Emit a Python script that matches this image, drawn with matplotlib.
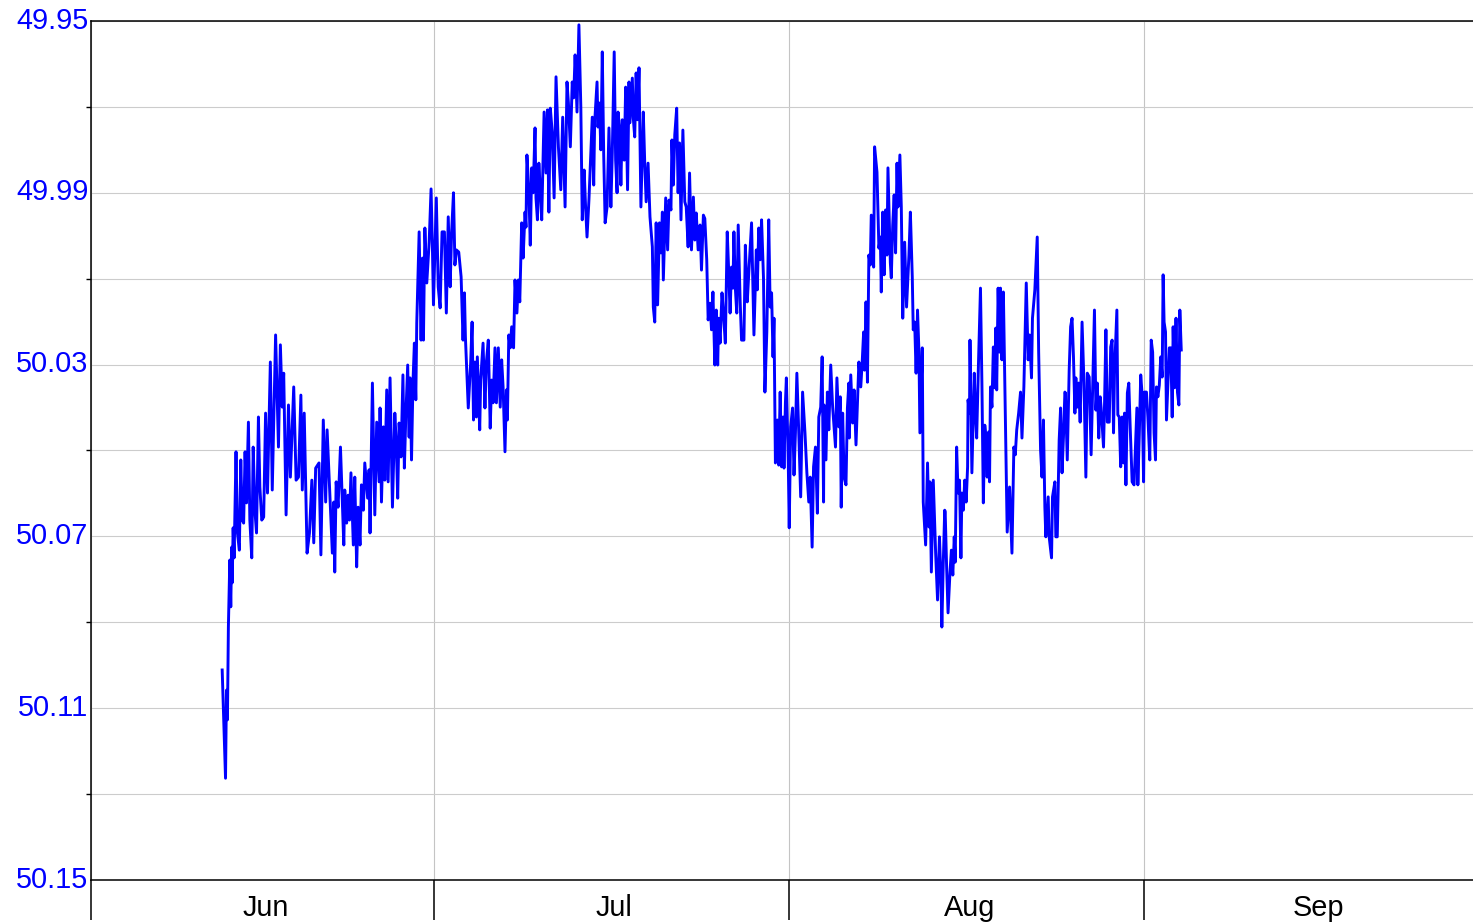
import matplotlib
matplotlib.use('Agg')
import matplotlib.pyplot as plt
import matplotlib.dates as mdates
import matplotlib.ticker as ticker
from matplotlib.transforms import ScaledTranslation
import pandas as pd

plt.rcParams['font.family'] = ['Liberation Sans', 'DejaVu Sans']

# readings: hours since 12 Jun 00:00, grid frequency in Hz
start = pd.Timestamp('2023-06-12 00:00')
hours = [
    11, 18, 20, 22, 24, 27, 29, 31, 32, 34, 36, 40, 43, 47, 50, 53, 56, 59, 62, 66,
    69, 73, 76, 80, 83, 87, 90, 94, 98, 102, 106, 112, 116, 123, 129, 133, 137, 140, 145, 150,
    154, 161, 166, 171, 176, 179, 183, 189, 194, 199, 203, 207, 214, 218, 223, 228, 231, 236, 239, 242,
    245, 247, 250, 254, 259, 266, 268,
    272, 275, 278, 281, 286, 289, 293, 296, 300, 303, 307, 310, 316, 319, 321, 326, 331, 335, 340, 342,
    345, 349, 352, 356, 359, 363, 368, 373, 376, 379, 382, 386, 390, 393, 396, 400, 403, 405, 408, 411,
    414, 417, 419, 424, 428, 431, 433, 436, 440, 445, 449, 452, 454, 460, 464, 468, 472, 477, 481, 485,
    489, 492, 496, 499, 502, 507, 512, 516, 519,
    521, 527, 532, 535, 538, 541, 544, 546, 551, 553, 558, 562, 565, 569, 573, 576, 579, 583, 586, 590,
    594, 597, 600, 604, 607, 609, 612, 615, 618, 622, 625, 629, 632, 635, 639, 642, 646, 648, 650, 654,
    657, 660, 663, 667, 669, 672, 675, 678, 681, 686, 690, 693, 696, 699, 703, 707, 711, 716, 721, 725,
    730, 734, 737, 741, 745, 748, 751, 755, 759, 763, 766, 770,
    773, 776, 780, 784, 787, 790, 792, 797, 799, 802, 805, 808, 811, 814, 818, 822, 826, 829, 833, 836,
    839, 841, 844, 847, 850, 854, 857, 861, 864, 866, 871, 873, 876, 879, 882, 885, 889, 894, 897, 900,
    904, 908, 913, 915, 918, 921, 924, 928, 931, 934, 936, 941, 945, 948, 952, 954, 957, 960, 964, 967,
    970, 973, 977, 981, 984, 988, 991, 995, 999, 1002, 1005, 1009, 1013, 1016, 1020,
    1023, 1027, 1030, 1034, 1037, 1040, 1044, 1047, 1050, 1052, 1055, 1059, 1062, 1066, 1070, 1073, 1076, 1079, 1082, 1084,
    1087, 1090, 1093, 1097, 1100, 1105, 1108, 1112, 1115, 1121, 1126, 1131, 1133, 1136, 1139, 1142, 1146, 1149, 1153, 1157,
    1160, 1163, 1166, 1168, 1171, 1175, 1178, 1181, 1184, 1187, 1189, 1192, 1194, 1198, 1200, 1203, 1207, 1210, 1213, 1216,
    1220, 1224, 1228, 1233, 1237, 1241, 1244, 1248, 1251, 1255, 1259, 1262, 1266, 1269, 1272,
    1273, 1277, 1280, 1283, 1287, 1291, 1297, 1300, 1304, 1307, 1309, 1312, 1315, 1319, 1322, 1325, 1326, 1329, 1333, 1336,
    1340, 1346, 1350, 1353, 1356, 1358, 1361, 1364, 1367, 1370, 1372, 1377, 1379, 1384, 1388, 1391, 1393, 1396, 1399, 1402,
    1405, 1407, 1412, 1414, 1417, 1420, 1423, 1426, 1428, 1432, 1435, 1438, 1442, 1446, 1451, 1454, 1458, 1460, 1463, 1466,
    1469, 1472, 1474, 1479, 1481, 1486, 1490, 1493, 1495, 1498, 1502, 1507, 1511, 1515, 1518, 1520, 1523, 1526,
    1527, 1530, 1533, 1537, 1540, 1543, 1546, 1548, 1551, 1554, 1557, 1560, 1562, 1565, 1568, 1571, 1574, 1575, 1578, 1579,
    1583, 1588, 1590, 1593, 1597, 1601, 1604, 1607, 1610, 1613, 1615, 1618, 1620, 1622, 1625, 1628, 1631, 1633, 1635, 1638,
    1641, 1643, 1646, 1649, 1652, 1657, 1662, 1667, 1671, 1674, 1677, 1681, 1685, 1688, 1692, 1697, 1701, 1704, 1708, 1710,
    1715, 1720, 1723, 1727, 1730, 1733, 1736, 1738, 1743, 1745, 1750, 1752, 1757, 1759, 1762, 1766, 1769, 1772, 1775, 1778,
    1779, 1783, 1787, 1790, 1793, 1796, 1799, 1801, 1804, 1807, 1810, 1814, 1818, 1822, 1825, 1829, 1833, 1836, 1840, 1843,
    1846, 1849, 1852, 1854, 1859, 1861, 1864, 1867, 1871, 1874, 1877, 1880, 1882, 1887, 1889, 1892, 1895, 1898, 1901, 1903,
    1906, 1909, 1912, 1915, 1919, 1923, 1926, 1929, 1931, 1934, 1937, 1940, 1943, 1945, 1949, 1952, 1956, 1959, 1962, 1965,
    1968, 1970, 1973, 1976, 1979, 1982, 1984, 1986, 1989, 1991, 1994, 1997, 2000, 2003, 2005, 2008, 2011, 2014, 2017, 2019,
    2022,
]
freq = [
    50.1011, 50.1263, 50.1058, 50.1127, 50.0911, 50.0755, 50.0864, 50.0725, 50.0808, 50.0680,
    50.0750, 50.0503, 50.0692, 50.0732, 50.0522, 50.0662, 50.0669, 50.0503, 50.0622, 50.0434,
    50.0662, 50.0750, 50.0492, 50.0646, 50.0692, 50.0422, 50.0585, 50.0662, 50.0655, 50.0413,
    50.0599, 50.0294, 50.0592, 50.0231, 50.0492, 50.0254, 50.0399, 50.0320, 50.0650, 50.0394,
    50.0562, 50.0352, 50.0569, 50.0562, 50.0371, 50.0592, 50.0413, 50.0739, 50.0692, 50.0569,
    50.0715, 50.0541, 50.0529, 50.0743, 50.0429, 50.0620, 50.0452, 50.0585, 50.0662, 50.0739,
    50.0620, 50.0783, 50.0573, 50.0632, 50.0492, 50.0720, 50.0592,
    50.0669, 50.0604, 50.0662, 50.0552, 50.0720, 50.0562, 50.0771, 50.0632, 50.0720, 50.0580,
    50.0639, 50.0529, 50.0611, 50.0545, 50.0692, 50.0343, 50.0650, 50.0434, 50.0573, 50.0401,
    50.0620, 50.0445, 50.0569, 50.0359, 50.0573, 50.0331, 50.0632, 50.0413, 50.0483, 50.0611,
    50.0436, 50.0515, 50.0324, 50.0541, 50.0422, 50.0301, 50.0469, 50.0331, 50.0522, 50.0343,
    50.0250, 50.0382, 50.0203, 49.9991, 50.0243, 50.0052, 50.0243, 49.9982, 50.0110, 50.0015,
    49.9891, 50.0038, 50.0161, 49.9912, 50.0119, 50.0168, 49.9991, 49.9991, 50.0180, 49.9956,
    50.0119, 49.9994, 49.9900, 50.0068, 50.0033, 50.0038, 50.0096, 50.0243, 50.0133,
    50.0236, 50.0401, 50.0296, 50.0201, 50.0429, 50.0294, 50.0422, 50.0282, 50.0452, 50.0336,
    50.0250, 50.0401, 50.0294, 50.0243, 50.0448, 50.0336, 50.0389, 50.0261, 50.0389, 50.0261,
    50.0399, 50.0289, 50.0352, 50.0503, 50.0359, 50.0429, 50.0231, 50.0261, 50.0212, 50.0261,
    50.0103, 50.0180, 50.0103, 50.0154, 49.9970, 50.0052, 49.9945, 49.9980, 49.9812, 49.9893,
    50.0022, 49.9842, 49.9900, 49.9749, 49.9912, 49.9963, 49.9831, 49.9893, 49.9963, 49.9712,
    49.9854, 49.9707, 49.9945, 49.9703, 49.9758, 49.9912, 49.9630, 49.9793, 49.9893, 49.9724,
    49.9933, 49.9642, 49.9691, 49.9793, 49.9642, 49.9679, 49.9579, 49.9712, 49.9509, 49.9700,
    49.9963, 49.9847,
    49.9933, 50.0003, 49.9917, 49.9807, 49.9724, 49.9882, 49.9737, 49.9642, 49.9747, 49.9691,
    49.9800, 49.9572, 49.9812, 49.9970, 49.9933, 49.9749, 49.9933, 49.9807, 49.9572, 49.9824,
    49.9900, 49.9712, 49.9747, 49.9882, 49.9730, 49.9824, 49.9654, 49.9893, 49.9642, 49.9737,
    49.9633, 49.9726, 49.9770, 49.9621, 49.9730, 49.9609, 49.9933, 49.9712, 49.9831, 49.9921,
    49.9831, 49.9956, 50.0026, 50.0166, 50.0201, 49.9970, 50.0161, 49.9970, 50.0040, 49.9945,
    50.0103, 49.9912, 50.0033, 49.9917, 49.9940, 49.9777, 49.9882, 49.9765, 49.9703, 49.9900,
    49.9784, 49.9963, 49.9754, 49.9921, 49.9933, 50.0026, 49.9854, 50.0033, 49.9910, 50.0010,
    49.9947, 50.0033, 49.9975, 50.0080, 49.9952,
    49.9960, 50.0056, 50.0196, 50.0157, 50.0219, 50.0131, 50.0301, 50.0173, 50.0301, 50.0192,
    50.0250, 50.0133, 50.0180, 50.0250, 49.9991, 50.0080, 50.0180, 50.0073, 50.0122, 49.9991,
    50.0122, 50.0180, 49.9975, 50.0150, 50.0243, 50.0243, 50.0022, 50.0154, 50.0091, 49.9970,
    50.0231, 50.0033, 50.0126, 49.9982, 50.0056, 49.9963, 50.0098, 50.0364, 50.0224, 49.9963,
    50.0166, 50.0133, 50.0282, 50.0192, 50.0529, 50.0429, 50.0534, 50.0364, 50.0538, 50.0422,
    50.0541, 50.0389, 50.0331, 50.0529, 50.0680, 50.0445, 50.0401, 50.0557, 50.0459, 50.0320,
    50.0459, 50.0608, 50.0364, 50.0459, 50.0552, 50.0620, 50.0562, 50.0725, 50.0538, 50.0492,
    50.0646, 50.0422, 50.0399, 50.0282, 50.0620,
    50.0394, 50.0522, 50.0364, 50.0452, 50.0301, 50.0399, 50.0492, 50.0331, 50.0445, 50.0375,
    50.0632, 50.0413, 50.0562, 50.0580, 50.0401, 50.0343, 50.0471, 50.0324, 50.0436, 50.0359,
    50.0487, 50.0294, 50.0352, 50.0294, 50.0224, 50.0313, 50.0154, 50.0341, 50.0045, 50.0068,
    49.9952, 50.0073, 49.9793, 49.9852, 50.0029, 50.0003, 50.0131, 49.9945, 50.0091, 49.9940,
    50.0045, 49.9842, 50.0063, 50.0098, 49.9975, 49.9905, 50.0040, 49.9831, 49.9933, 49.9812,
    49.9933, 50.0192, 50.0015, 50.0166, 50.0045, 49.9945, 50.0096, 50.0219, 50.0201, 50.0320,
    50.0173, 50.0271, 50.0459, 50.0261, 50.0620, 50.0720, 50.0529, 50.0678, 50.0573, 50.0783,
    50.0569, 50.0739, 50.0848, 50.0701, 50.0795, 50.0911, 50.0762, 50.0639,
    50.0643, 50.0771, 50.0878, 50.0785, 50.0732, 50.0790, 50.0701, 50.0760, 50.0492, 50.0599,
    50.0569, 50.0750, 50.0599, 50.0639, 50.0569, 50.0620, 50.0538, 50.0382, 50.0413, 50.0243,
    50.0552, 50.0320, 50.0399, 50.0471, 50.0289, 50.0122, 50.0343, 50.0622, 50.0441, 50.0476,
    50.0562, 50.0457, 50.0573, 50.0352, 50.0399, 50.0259, 50.0354, 50.0215, 50.0359, 50.0122,
    50.0271, 50.0122, 50.0289, 50.0131, 50.0336, 50.0690, 50.0585, 50.0739, 50.0492, 50.0510,
    50.0452, 50.0413, 50.0364, 50.0471, 50.0352, 50.0110, 50.0289, 50.0231, 50.0331, 50.0192,
    50.0126, 50.0003, 50.0271, 50.0499, 50.0562, 50.0429, 50.0632, 50.0701, 50.0608, 50.0701,
    50.0750, 50.0608, 50.0573, 50.0701, 50.0701, 50.0476, 50.0401, 50.0552, 50.0469, 50.0364,
    50.0366, 50.0522, 50.0313, 50.0212, 50.0192, 50.0282, 50.0413, 50.0331, 50.0399, 50.0343,
    50.0434, 50.0201, 50.0343, 50.0562, 50.0320, 50.0329, 50.0510, 50.0366, 50.0173, 50.0406,
    50.0343, 50.0471, 50.0375, 50.0401, 50.0492, 50.0399, 50.0219, 50.0434, 50.0434, 50.0259,
    50.0243, 50.0459, 50.0320, 50.0173, 50.0417, 50.0422, 50.0538, 50.0422, 50.0529, 50.0413,
    50.0580, 50.0366, 50.0343, 50.0448, 50.0573, 50.0580, 50.0492, 50.0401, 50.0580, 50.0464,
    50.0324, 50.0371, 50.0573, 50.0364, 50.0364, 50.0422, 50.0522, 50.0243, 50.0271, 50.0459,
    50.0522, 50.0352, 50.0375, 50.0348, 50.0282, 50.0329, 50.0091, 50.0201, 50.0224, 50.0429,
    50.0343, 50.0261, 50.0261, 50.0422, 50.0212, 50.0354, 50.0192, 50.0364, 50.0394, 50.0173,
    50.0266,
]

y_major = [49.95, 49.99, 50.03, 50.07, 50.11, 50.15]
y_minor = [49.97, 50.01, 50.05, 50.09, 50.13]

times = start + pd.to_timedelta(hours, unit='h')
month_edges = pd.date_range('2023-06-01', '2023-10-01', freq='MS')
month_mids = month_edges[:-1] + (month_edges[1:] - month_edges[:-1]) / 2

fig = plt.figure(figsize=(14.73, 9.24), dpi=100)
ax = fig.add_axes([0.0618, 0.0476, 0.948, 0.9297])

ax.plot(times, freq, color='#0000ff', lw=2.1)

ax.set_xlim(month_edges[0], month_edges[-1])
ax.set_ylim(y_major[-1], y_major[0])

ax.xaxis.set_major_locator(mdates.MonthLocator())
ax.xaxis.set_major_formatter(ticker.NullFormatter())
ax.xaxis.set_minor_locator(ticker.FixedLocator(mdates.date2num(month_mids)))
ax.xaxis.set_minor_formatter(mdates.DateFormatter('%b'))
ax.tick_params(axis='x', which='major', length=28.8, width=1.1, color='black')
ax.tick_params(axis='x', which='minor', length=0, pad=10, labelsize=20.8)

ax.yaxis.set_major_locator(ticker.FixedLocator(y_major))
ax.yaxis.set_minor_locator(ticker.FixedLocator(y_minor))
ax.yaxis.set_major_formatter(ticker.FormatStrFormatter('%.2f'))
ax.tick_params(axis='y', which='major', length=0, pad=2, labelsize=20.8, labelcolor='#0000ff')
ax.tick_params(axis='y', which='minor', length=3.6, width=1.0)

# nudge the frequency labels up and the month names right a little
up = ScaledTranslation(0, 2.5 / 72, fig.dpi_scale_trans)
for t in ax.yaxis.get_major_ticks():
    t.label1.set_transform(t.label1.get_transform() + up)
right = ScaledTranslation(2.5 / 100, 0, fig.dpi_scale_trans)
for t in ax.xaxis.get_minor_ticks():
    t.label1.set_transform(t.label1.get_transform() + right)

ax.set_axisbelow(True)
ax.grid(True, which='both', axis='y', color='#cccccc', lw=0.8)
ax.grid(True, which='major', axis='x', color='#c4c4c4', lw=0.8)

ax.spines['right'].set_visible(False)
for s in ['left', 'bottom', 'top']:
    ax.spines[s].set_linewidth(1.1)
    ax.spines[s].set_color('black')

fig.savefig('out.png', dpi=100)
